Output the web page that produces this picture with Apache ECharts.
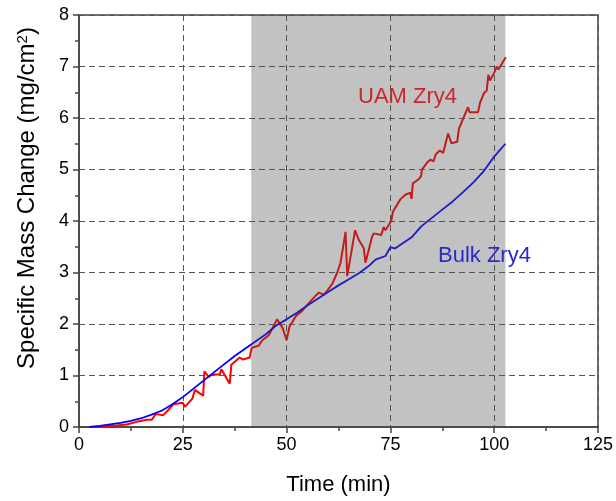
<!DOCTYPE html>
<html>
<head>
<meta charset="utf-8">
<script src="https://cdn.jsdelivr.net/npm/echarts@6/dist/echarts.min.js"></script>
<style>
  html, body { margin: 0; padding: 0; background: #fff; }
  #chart { width: 616px; height: 501px; }
</style>
</head>
<body>
<div id="chart"></div>
<script>
// UAM Zry4 (red)
const uamTime = [3, 6, 9, 11.5, 13.9, 14.3, 16.3, 17.5, 18.5, 20.3, 21.5, 22.7, 25, 25.5, 27.3, 27.9, 29.9, 30.2,
  31.3, 31.9, 33.9, 34.3, 36.3, 36.7, 38.7, 39.5, 41.1, 41.6, 43.3, 44.1, 45.7, 47.7, 49.0, 50.0, 50.7, 52.3,
  53.8, 55.4, 57.0, 57.8, 59.0, 59.8, 61.0, 62.2, 63.0, 64.2, 64.6, 66.5, 67.4, 68.6, 69.0, 70.6, 71.0, 72.8,
  73.4, 73.8, 75.2, 75.6, 77.4, 78.6, 79.8, 80.1, 80.4, 81.8, 82.4, 82.6, 83.8, 84.6, 85.4, 85.9, 86.9, 87.7,
  88.9, 89.7, 91.1, 91.5, 92.7, 93.7, 94.1, 96.1, 96.6, 97.6, 98.2, 98.6, 99.0, 100.2, 100.6, 101.0, 102.8];
const uamMass = [0, 0.01, 0.03, 0.05, 0.10, 0.07, 0.14, 0.14, 0.25, 0.23, 0.33, 0.44, 0.47, 0.39, 0.55, 0.72, 0.61, 1.08,
  0.97, 1.02, 1.02, 1.12, 0.84, 1.21, 1.35, 1.31, 1.35, 1.54, 1.58, 1.68, 1.78, 2.09, 1.93, 1.69, 1.95, 2.16,
  2.26, 2.41, 2.55, 2.61, 2.57, 2.65, 2.78, 3.0, 3.19, 3.79, 2.93, 3.82, 3.63, 3.47, 3.19, 3.70, 3.76, 3.73,
  3.88, 3.82, 4.0, 4.18, 4.42, 4.51, 4.55, 4.43, 4.73, 4.81, 4.87, 5.0, 5.13, 5.19, 5.16, 5.29, 5.37, 5.32,
  5.70, 5.51, 5.54, 5.79, 6.02, 6.21, 6.11, 6.11, 6.30, 6.49, 6.53, 6.84, 6.73, 6.91, 7.0, 6.94, 7.18];

// Bulk Zry4 (blue)
const bulkTime = [2.5, 5, 7.5, 10, 12.5, 15, 17.5, 20, 22.5, 25, 27.5, 30, 32.5, 35, 37.5, 40, 42.5, 45, 47.5, 50,
  52.5, 55, 57.5, 60, 62.5, 65, 67.5, 70, 71.4, 73.8, 75, 76.2, 77.8, 80.2, 82.5, 85, 87.5, 90, 92.5, 95, 97.5, 100, 102.7];
const bulkMass = [0, 0.02, 0.05, 0.08, 0.12, 0.17, 0.24, 0.32, 0.44, 0.58, 0.74, 0.9, 1.06, 1.22, 1.38, 1.52, 1.66, 1.8, 1.97, 2.09,
  2.22, 2.36, 2.49, 2.62, 2.75, 2.87, 2.99, 3.14, 3.25, 3.32, 3.49, 3.47, 3.56, 3.69, 3.9, 4.06, 4.22, 4.38, 4.56, 4.75, 4.97, 5.25, 5.5];

// shaded time window
const shadeWindow = [41.5, 102.7];

const xTicks = { min: 0, max: 125, step: 25 };
const yTicks = { min: 0, max: 8, step: 1 };

const font = 'Liberation Sans, Arial, sans-serif';
const axisColor = '#444';

const chart = echarts.init(document.getElementById('chart'));

const pairs = (xs, ys) => xs.map((x, i) => [x, ys[i]]);

// grey band laid over the curves and grid, like a translucent box
function renderShade(params, api) {
  const p0 = api.coord([api.value(0), yTicks.max]);
  const p1 = api.coord([api.value(1), yTicks.min]);
  return {
    type: 'rect',
    shape: { x: p0[0], y: p0[1], width: p1[0] - p0[0], height: p1[1] - p0[1] },
    style: { fill: 'rgba(80,80,80,0.35)' }
  };
}

const option = {
  animation: false,
  backgroundColor: '#fff',
  grid: {
    left: 79, right: 15, top: 15, bottom: 67,
    show: true, borderColor: axisColor, borderWidth: 1.5
  },
  xAxis: {
    type: 'value',
    min: xTicks.min, max: xTicks.max, interval: xTicks.step,
    name: 'Time (min)',
    nameLocation: 'middle',
    nameGap: 47,
    nameTextStyle: { fontFamily: font, fontSize: 22, color: '#000' },
    axisLine: { show: true, lineStyle: { color: axisColor, width: 1.5 } },
    axisTick: { show: true, length: 6, lineStyle: { color: axisColor, width: 1.5 } },
    minorTick: { show: true, splitNumber: 2, length: 4, lineStyle: { color: axisColor, width: 1.5 } },
    axisLabel: { fontFamily: font, fontSize: 18, color: '#000', margin: 9 },
    splitLine: { show: true, lineStyle: { color: '#555', width: 1, type: [6, 4] } }
  },
  yAxis: {
    type: 'value',
    min: yTicks.min, max: yTicks.max, interval: yTicks.step,
    name: '{t|Specific Mass Change (mg/cm}{s|2}{t|)}',
    nameLocation: 'middle',
    nameGap: 39,
    nameTextStyle: {
      fontFamily: font, fontSize: 24, color: '#000',
      padding: [0, 0, 0, 46],
      rich: {
        t: { fontFamily: font, fontSize: 24, color: '#000' },
        s: { fontFamily: font, fontSize: 15, color: '#000', padding: [0, 0, 10, 0] }
      }
    },
    axisLine: { show: true, lineStyle: { color: axisColor, width: 1.5 } },
    axisTick: { show: true, length: 6, lineStyle: { color: axisColor, width: 1.5 } },
    minorTick: { show: true, splitNumber: 2, length: 4, lineStyle: { color: axisColor, width: 1.5 } },
    axisLabel: { fontFamily: font, fontSize: 18, color: '#000', margin: 10 },
    splitLine: { show: true, lineStyle: { color: '#555', width: 1, type: [6, 4] } }
  },
  series: [
    {
      name: 'UAM Zry4',
      type: 'line',
      data: pairs(uamTime, uamMass),
      showSymbol: false,
      z: 2,
      lineStyle: { color: '#ff0000', width: 2 }
    },
    {
      name: 'Bulk Zry4',
      type: 'line',
      data: pairs(bulkTime, bulkMass),
      showSymbol: false,
      z: 3,
      lineStyle: { color: '#0000ff', width: 1.8 }
    },
    {
      name: 'shade',
      type: 'custom',
      data: [shadeWindow],
      renderItem: renderShade,
      z: 10,
      silent: true
    }
  ],
  graphic: [
    {
      type: 'text', z: 100, left: 358, top: 86,
      style: { text: 'UAM Zry4', fill: '#c9282a', font: '22px ' + font }
    },
    {
      type: 'text', z: 100, left: 438, top: 245,
      style: { text: 'Bulk Zry4', fill: '#2a2ac8', font: '22px ' + font }
    }
  ]
};

chart.setOption(option);
</script>
</body>
</html>
